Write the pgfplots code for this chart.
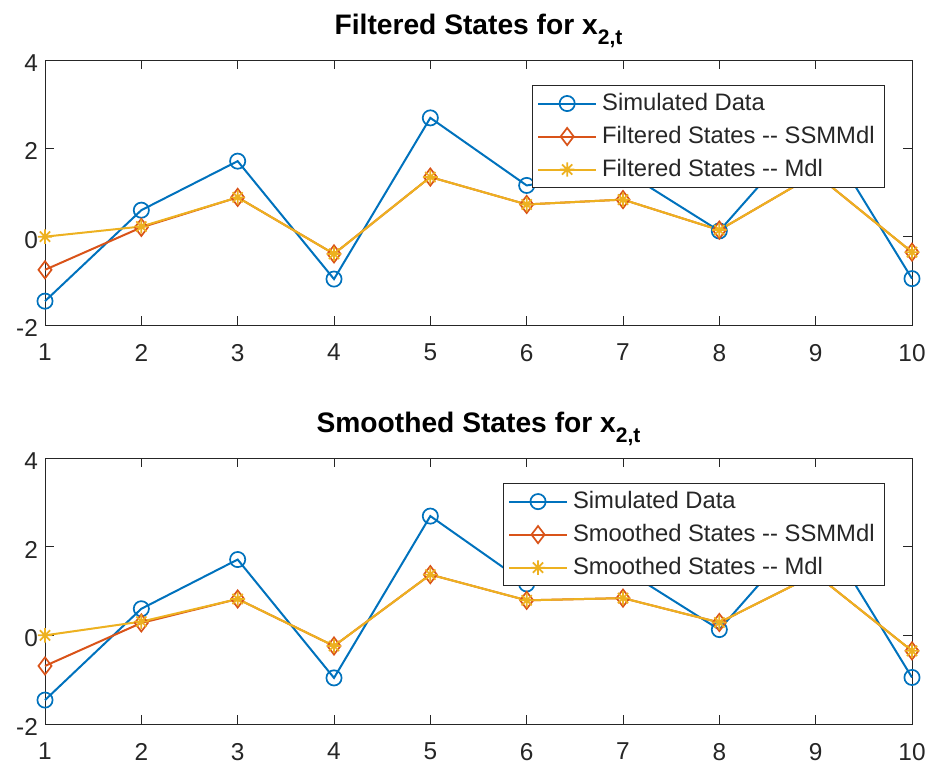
\documentclass[border=0pt]{standalone}
\usepackage{fontspec}
\setmainfont{Liberation Sans}
\usepackage{pgfplots}
\pgfplotsset{compat=1.18}
\definecolor{mblue}{rgb}{0,0.447,0.741}
\definecolor{morange}{rgb}{0.85,0.325,0.098}
\definecolor{myellow}{rgb}{0.929,0.694,0.125}
\definecolor{axgray}{rgb}{0.15,0.15,0.15}
\pgfdeclareplotmark{mstar}{%
 \pgfpathmoveto{\pgfqpoint{0pt}{\pgfplotmarksize}}\pgfpathlineto{\pgfqpoint{0pt}{-\pgfplotmarksize}}%
 \pgfpathmoveto{\pgfqpoint{\pgfplotmarksize}{0pt}}\pgfpathlineto{\pgfqpoint{-\pgfplotmarksize}{0pt}}%
 \pgfpathmoveto{\pgfqpoint{0.707\pgfplotmarksize}{0.707\pgfplotmarksize}}\pgfpathlineto{\pgfqpoint{-0.707\pgfplotmarksize}{-0.707\pgfplotmarksize}}%
 \pgfpathmoveto{\pgfqpoint{0.707\pgfplotmarksize}{-0.707\pgfplotmarksize}}\pgfpathlineto{\pgfqpoint{-0.707\pgfplotmarksize}{0.707\pgfplotmarksize}}%
 \pgfusepathqstroke}
\pgfdeclareplotmark{mdiam}{%
 \pgfpathmoveto{\pgfqpoint{0pt}{\pgfplotmarksize}}%
 \pgfpathlineto{\pgfqpoint{0.76\pgfplotmarksize}{0pt}}%
 \pgfpathlineto{\pgfqpoint{0pt}{-\pgfplotmarksize}}%
 \pgfpathlineto{\pgfqpoint{-0.76\pgfplotmarksize}{0pt}}%
 \pgfpathclose\pgfusepathqstroke}
\pgfplotsset{
 mstyle/.style={
  scale only axis, width=433.5pt, height=132.5pt,
  xmin=1, xmax=10, ymin=-2, ymax=4,
  xtick={1,2,3,4,5,6,7,8,9,10}, ytick={-2,0,2,4},
  xticklabels={1,2,3,4,5,6,7,8,9,10}, yticklabels={-2,0,2,4},
  tick align=inside, major tick length=4.3pt,
  axis line style={axgray, line width=0.5pt},
  every tick/.style={axgray, line width=0.5pt},
  ticklabel style={font=\fontsize{12.2}{14}\selectfont, text=axgray},
  xticklabel style={yshift=-6pt},
  yticklabel style={yshift=-1.5pt},
  title style={font=\bfseries\fontsize{14.1}{17}\selectfont, text=black, anchor=base, yshift=7pt},
  clip=false,
  legend cell align=left,
  legend style={at={(rel axis cs:0.969,0.906)}, anchor=north east,
    draw=axgray, line width=0.5pt, fill=white, inner xsep=2.5pt, inner ysep=0.8pt,
    row sep=0pt, font=\fontsize{11.9}{14}\selectfont, text=axgray,
    nodes={text height=9pt, text depth=2.5pt, inner sep=2.5pt}},
  legend image code/.code={\draw[mark repeat=2,mark phase=2] plot coordinates {(0pt,0pt)(14.5pt,0pt)(29pt,0pt)};},
 },
 sims/.style={color=mblue, line width=1pt, mark=o, mark size=3.8pt, mark options={solid, line width=0.85pt}},
 ssms/.style={color=morange, line width=1pt, mark=mdiam, mark size=4.3pt, mark options={solid, line width=0.85pt}},
 mdls/.style={color=myellow, line width=1pt, mark=mstar, mark size=3.6pt, mark options={solid, line width=0.85pt}},
}
\begin{document}
\begin{tikzpicture}
\useasboundingbox (0,0) rectangle (464.5pt,-382.5pt);
\begin{axis}[mstyle, at={(22.5pt,-162.5pt)}, anchor=south west,
  title={Filtered States for x\raisebox{-5pt}{\fontsize{10.5}{12}\selectfont 2,t}}]
\addplot[sims] coordinates {(1,-1.46)(2,0.60)(3,1.71)(4,-0.96)(5,2.69)(6,1.16)(7,1.50)(8,0.13)(9,2.60)(10,-0.95)};
\addlegendentry{Simulated Data}
\addplot[ssms] coordinates {(1,-0.75)(2,0.21)(3,0.89)(4,-0.39)(5,1.35)(6,0.73)(7,0.84)(8,0.15)(9,1.42)(10,-0.35)};
\addlegendentry{Filtered States -{}- SSMMdl}
\addplot[mdls] coordinates {(1,0)(2,0.23)(3,0.89)(4,-0.39)(5,1.35)(6,0.73)(7,0.84)(8,0.15)(9,1.42)(10,-0.35)};
\addlegendentry{Filtered States -{}- Mdl}
\end{axis}
\begin{axis}[mstyle, height=133pt, at={(22.5pt,-362pt)}, anchor=south west,
  title={Smoothed States for x\raisebox{-5pt}{\fontsize{10.5}{12}\selectfont 2,t}}]
\addplot[sims] coordinates {(1,-1.46)(2,0.60)(3,1.71)(4,-0.96)(5,2.69)(6,1.16)(7,1.50)(8,0.13)(9,2.60)(10,-0.95)};
\addlegendentry{Simulated Data}
\addplot[ssms] coordinates {(1,-0.69)(2,0.28)(3,0.82)(4,-0.24)(5,1.37)(6,0.79)(7,0.84)(8,0.29)(9,1.38)(10,-0.35)};
\addlegendentry{Smoothed States -{}- SSMMdl}
\addplot[mdls] coordinates {(1,0)(2,0.31)(3,0.82)(4,-0.24)(5,1.37)(6,0.79)(7,0.84)(8,0.29)(9,1.38)(10,-0.35)};
\addlegendentry{Smoothed States -{}- Mdl}
\end{axis}
\end{tikzpicture}
\end{document}
